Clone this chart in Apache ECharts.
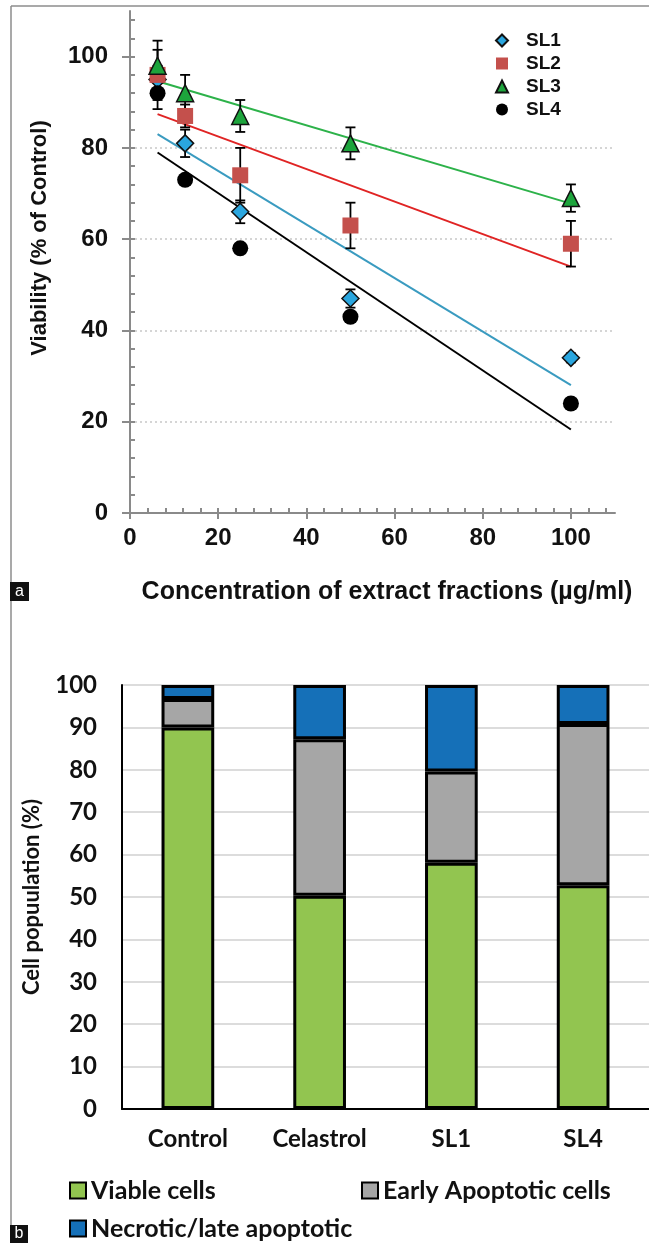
<!DOCTYPE html>
<html><head><meta charset="utf-8">
<script src="https://cdn.jsdelivr.net/npm/echarts@6/dist/echarts.min.js"></script>
<style>html,body{margin:0;padding:0;background:#fff}#c{width:649px;height:1243px}</style>
</head><body><div id="c"></div>
<script>
// ---- Panel a: viability vs concentration ----
const concentrations = [6.25, 12.5, 25, 50, 100];
const sl1 = [95, 81, 66, 47, 34];
const sl2 = [96, 87, 74, 63, 59];
const sl3 = [98, 92, 87, 81, 69];
const sl4 = [92, 73, 58, 43, 24];
const sl1Err = [3, 3, 2.5, 2, 1];
const sl2Err = [5.5, 2.5, 6, 5, 5];
const sl3Err = [5.5, 4, 3.5, 3.5, 3];
const sl4Err = [3.5, 1, 1, 1, 1];
const trendX = [6.25, 100];
const sl1Trend = [83, 28];
const sl2Trend = [87.4, 54];
const sl3Trend = [94.6, 67.8];
const sl4Trend = [79, 18.3];
const aYTicks = [0, 20, 40, 60, 80, 100];
const aXTicks = [0, 20, 40, 60, 80, 100];

// ---- Panel b: cell population ----
const groups = ['Control', 'Celastrol', 'SL1', 'SL4'];
const viable = [90, 50.3, 58.1, 52.8];
const earlyApoptotic = [6.7, 36.9, 21.5, 38];
const necrotic = [3.3, 12.8, 20.4, 9.2];

const minorTicks = [];
for (let v = 4; v <= 108; v += 4) minorTicks.push(v);

const ARIAL = '"Liberation Sans", Arial, sans-serif';
const CAL = 'Lato, "Open Sans", sans-serif';
const AXGRAY = '#8a8a8a';

function pts(ys) { return concentrations.map((x, i) => [x, ys[i]]); }
function errPts(ys, es) { return concentrations.map((x, i) => [x, ys[i], es[i]]); }
function trendPts(ys) { return trendX.map((x, i) => [x, ys[i]]); }

function errRender(params, api) {
  const x = api.value(0), y = api.value(1), e = api.value(2);
  const t = api.coord([x, y + e]);
  const b = api.coord([x, y - e]);
  const hw = 5;
  const st = { stroke: '#000', lineWidth: 1.8 };
  return { type: 'group', children: [
    { type: 'line', shape: { x1: t[0], y1: t[1], x2: b[0], y2: b[1] }, style: st },
    { type: 'line', shape: { x1: t[0] - hw, y1: t[1], x2: t[0] + hw, y2: t[1] }, style: st },
    { type: 'line', shape: { x1: b[0] - hw, y1: b[1], x2: b[0] + hw, y2: b[1] }, style: st }
  ]};
}

const scatterDefs = [
  { name: 'SL1', data: sl1, err: sl1Err, trend: sl1Trend, symbol: 'diamond', size: 17, color: '#2aa6df', border: '#111', bw: 1.5, line: '#3a9bc0' },
  { name: 'SL2', data: sl2, err: sl2Err, trend: sl2Trend, symbol: 'rect', size: 16, color: '#c4504c', border: '#c4504c', bw: 0, line: '#e02424' },
  { name: 'SL3', data: sl3, err: sl3Err, trend: sl3Trend, symbol: 'triangle', size: 17, color: '#1da43c', border: '#111', bw: 1.5, line: '#2db24a' },
  { name: 'SL4', data: sl4, err: sl4Err, trend: sl4Trend, symbol: 'circle', size: 16, color: '#000', border: '#000', bw: 0, line: '#000' }
];

const series = [];
scatterDefs.forEach(d => {
  series.push({ name: d.name + ' trend', type: 'line', xAxisIndex: 0, yAxisIndex: 0, data: trendPts(d.trend),
    symbol: 'none', lineStyle: { color: d.line, width: 2 }, z: 2, silent: true });
});
scatterDefs.forEach(d => {
  series.push({ name: d.name + ' err', type: 'custom', xAxisIndex: 0, yAxisIndex: 0, renderItem: errRender,
    data: errPts(d.data, d.err), encode: { x: 0, y: 1 }, z: 3, silent: true });
});
scatterDefs.forEach(d => {
  series.push({ name: d.name, type: 'scatter', xAxisIndex: 0, yAxisIndex: 0, data: pts(d.data),
    symbol: d.symbol, symbolSize: d.size,
    itemStyle: { color: d.color, borderColor: d.border, borderWidth: d.bw, opacity: 1 }, z: 4 });
});

const barStyle = (c) => ({ color: c, borderColor: '#000', borderWidth: 3 });
series.push({ name: 'Viable cells', type: 'bar', stack: 'pop', xAxisIndex: 2, yAxisIndex: 2, data: viable, barWidth: '40%', itemStyle: barStyle('#92c550') });
series.push({ name: 'Early Apoptotic cells', type: 'bar', stack: 'pop', xAxisIndex: 2, yAxisIndex: 2, data: earlyApoptotic, barWidth: '40%', itemStyle: barStyle('#a6a6a6') });
series.push({ name: 'Necrotic/late apoptotic', type: 'bar', stack: 'pop', xAxisIndex: 2, yAxisIndex: 2, data: necrotic, barWidth: '40%', itemStyle: barStyle('#1570b8') });

const lblA = { fontFamily: ARIAL, fontWeight: 'bold', fontSize: 24, color: '#111' };
const lblB = { fontFamily: CAL, fontWeight: 'bold', fontSize: 24, color: '#111' };

const legendB = (name, left, top) => ({
  data: [name], left: left, top: top, icon: 'rect', itemWidth: 16, itemHeight: 16,
  itemStyle: { borderColor: '#000', borderWidth: 2 },
  textStyle: { fontFamily: CAL, fontWeight: 'bold', fontSize: 25, color: '#111' },
  selectedMode: false
});

const option = {
  animation: false,
  backgroundColor: '#fff',
  grid: [
    { left: 130, right: 34, top: 11, bottom: 730 },
    { left: 122, right: 0, top: 685, bottom: 134 }
  ],
  xAxis: [
    { gridIndex: 0, type: 'value', min: 0, max: 110, interval: 20, position: 'bottom',
      axisLine: { lineStyle: { color: AXGRAY, width: 2 } },
      axisTick: { show: true, length: 6, customValues: aXTicks, lineStyle: { color: AXGRAY, width: 2 } },
      axisLabel: { customValues: aXTicks, margin: 13, ...lblA },
      splitLine: { show: false } },
    { gridIndex: 0, type: 'value', min: 0, max: 110, position: 'bottom', offset: 0,
      axisLine: { show: false },
      axisTick: { show: true, inside: true, length: 5, customValues: minorTicks, lineStyle: { color: AXGRAY, width: 2 } },
      axisLabel: { show: false }, splitLine: { show: false } },
    { gridIndex: 1, type: 'category', data: groups,
      axisLine: { lineStyle: { color: '#000', width: 2 } },
      axisTick: { show: false },
      axisLabel: { margin: 18, ...lblB } }
  ],
  yAxis: [
    { gridIndex: 0, type: 'value', min: 0, max: 110, interval: 20, position: 'left',
      axisLine: { show: true, lineStyle: { color: AXGRAY, width: 2 } },
      axisTick: { show: true, length: 8, customValues: aYTicks, lineStyle: { color: AXGRAY, width: 2 } },
      axisLabel: { customValues: aYTicks, margin: 22, ...lblA },
      splitLine: { show: true, showMinLine: false, showMaxLine: false, lineStyle: { color: '#c8c8c8', type: [2, 3], width: 1.5 } } },
    { gridIndex: 0, type: 'value', min: 0, max: 110, position: 'left', offset: 0,
      axisLine: { show: false },
      axisTick: { show: true, inside: true, length: 5, customValues: minorTicks, lineStyle: { color: AXGRAY, width: 2 } },
      axisLabel: { show: false }, splitLine: { show: false } },
    { gridIndex: 1, type: 'value', min: 0, max: 100, interval: 10,
      axisLine: { show: true, lineStyle: { color: '#000', width: 2 } },
      axisTick: { show: false },
      axisLabel: { margin: 25, ...lblB },
      splitLine: { show: true, lineStyle: { color: '#d0d0d0', width: 1.5 } } }
  ],
  legend: [
    { data: ['SL1', 'SL2', 'SL3', 'SL4'], orient: 'vertical', left: 490, top: 26, itemWidth: 12, itemHeight: 12, itemGap: 4,
      textStyle: { fontFamily: ARIAL, fontWeight: 'bold', fontSize: 19, color: '#111', padding: [0, 0, 0, 13] }, selectedMode: false },
    legendB('Viable cells', 64, 1173),
    legendB('Early Apoptotic cells', 356, 1173),
    legendB('Necrotic/late apoptotic', 64, 1211)
  ],
  graphic: [
    { type: 'line', shape: { x1: 11, y1: 6, x2: 11, y2: 1226 }, style: { stroke: '#8c8c8c', lineWidth: 1.5 }, z: 0 },
    { type: 'line', shape: { x1: 11, y1: 6, x2: 649, y2: 6 }, style: { stroke: '#8c8c8c', lineWidth: 1.5 }, z: 0 },
    { type: 'rect', shape: { x: 10, y: 582, width: 19, height: 19 }, style: { fill: '#111' } },
    { type: 'text', x: 19.5, y: 591.5, style: { text: 'a', fill: '#fff', font: '16px "Liberation Sans", Arial', align: 'center', verticalAlign: 'middle' } },
    { type: 'rect', shape: { x: 10, y: 1225, width: 18, height: 18 }, style: { fill: '#111' } },
    { type: 'text', x: 19, y: 1234, style: { text: 'b', fill: '#fff', font: '16px "Liberation Sans", Arial', align: 'center', verticalAlign: 'middle' } },
    { type: 'text', x: 40, y: 238, rotation: Math.PI / 2,
      style: { text: 'Viability (% of Control)', fill: '#111', font: 'bold 22px "Liberation Sans", Arial', align: 'center', verticalAlign: 'middle' } },
    { type: 'text', x: 387, y: 592,
      style: { text: 'Concentration of extract fractions (µg/ml)', fill: '#111', font: 'bold 25px "Liberation Sans", Arial', align: 'center', verticalAlign: 'middle' } },
    { type: 'text', x: 32, y: 897, rotation: Math.PI / 2,
      style: { text: 'Cell popuulation (%)', fill: '#111', font: 'bold 22px Lato, "Open Sans", sans-serif', align: 'center', verticalAlign: 'middle' } }
  ],
  series: series
};

const chart = echarts.init(document.getElementById('c'), null, { renderer: 'canvas' });
chart.setOption(option);
</script>
</body></html>
